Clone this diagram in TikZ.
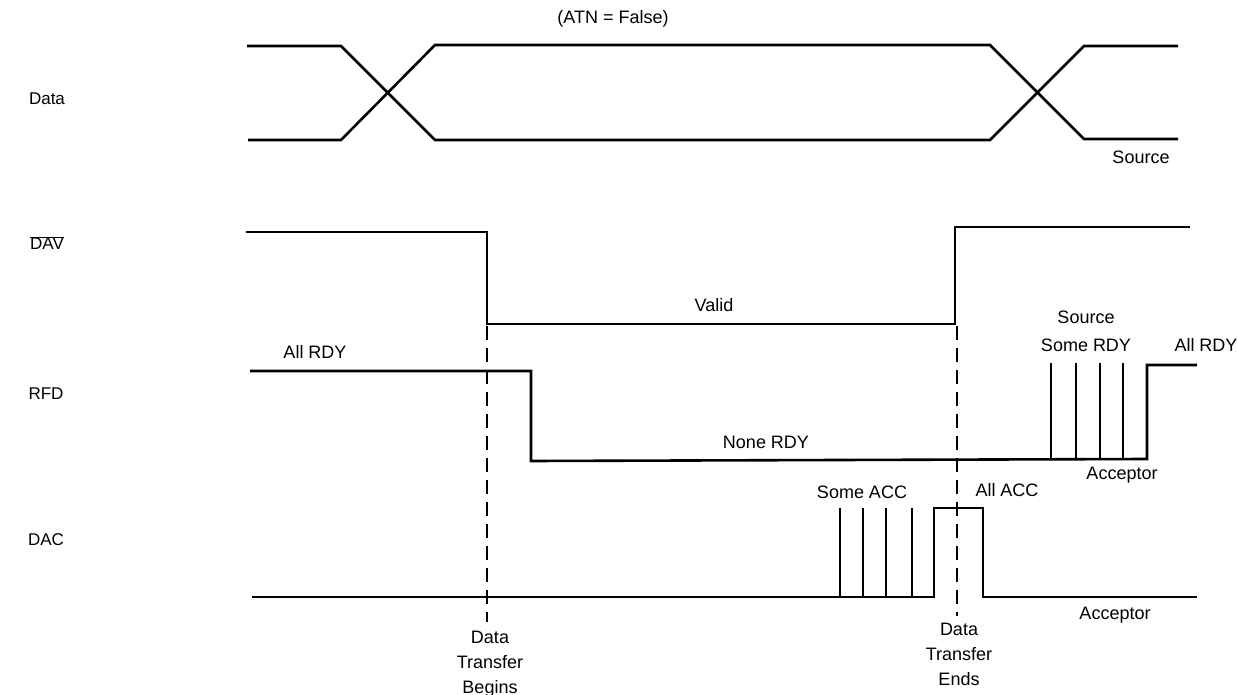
\documentclass[tikz,border=0pt]{standalone}
\usepackage{fontspec}
\setmainfont{Liberation Sans}
\begin{document}
\begin{tikzpicture}[x=1pt,y=-1pt,
  wave/.style={line width=2.6pt,line join=miter},
  pulse/.style={line width=1.8pt},
  marker/.style={line width=1.8pt,dash pattern=on 14pt off 8pt},
  lbl/.style={font=\fontsize{18}{20}\selectfont,inner sep=0pt},
  sig/.style={font=\fontsize{17}{20}\selectfont,inner sep=0pt}]
\useasboundingbox (0,0) rectangle (1237,695);
% Data bus
\draw[wave] (247,46) -- (341,46) -- (435,140) -- (990,140) -- (1084,46) -- (1178,46);
\draw[wave] (248,140) -- (341,140) -- (435,45) -- (990,45) -- (1084,139) -- (1178,139);
% DAV
\draw[wave] (246,232) -- (487,232) -- (487,324) -- (955,324) -- (955,227) -- (1190,227);
% RFD
\draw[wave] (250,371) -- (531,371) -- (531,461) -- (1147,459) -- (1147,365) -- (1197,365);
\foreach \x in {1051,1076,1100,1123} \draw[pulse] (\x,459) -- (\x,363);
% DAC
\draw[wave] (252,597) -- (934,597) -- (934,508) -- (983,508) -- (983,597) -- (1197,597);
\foreach \x in {840,863,886,912} \draw[pulse] (\x,597) -- (\x,508);
% markers
\coordinate (b0) at (487,326); \coordinate (b1) at (487,622);
\coordinate (e0) at (957,326); \coordinate (e1) at (957,616);
\draw[marker] (b0) -- (b1);
\draw[marker] (e0) -- (e1);
% signal names
\node[sig] (ndata) at (47,99) {Data};
\node[sig] (ndav) at (47,243) {$\overline{\hbox{DAV}}$};
\node[sig] (nrfd) at (46,394) {RFD};
\node[sig] (ndac) at (46,540) {DAC};
% labels
\node[lbl] (atn) at (613,19) {(ATN = False)};
\node[lbl] (src1) at (1141,157) {Source};
\node[lbl] (valid) at (714,305) {Valid};
\node[lbl] (allrdy1) at (315,352) {All RDY};
\node[lbl] (src2) at (1086,317) {Source};
\node[lbl] (somerdy) at (1086,345) {Some RDY};
\node[lbl] (allrdy2) at (1206,345) {All RDY};
\node[lbl] (nonerdy) at (766,442) {None RDY};
\node[lbl] (acc1) at (1122,475) {Acceptor};
\node[lbl] (someacc) at (862,492) {Some ACC};
\node[lbl] (allacc) at (1007,490) {All ACC};
\node[lbl] (acc2) at (1115,615) {Acceptor};
\node[lbl,align=center,font=\fontsize{18}{25}\selectfont] (begins) at (490,664) {Data\\Transfer\\Begins};
\node[lbl,align=center,font=\fontsize{18}{25}\selectfont] (ends) at (959,654) {Data\\Transfer\\Ends};
\end{tikzpicture}
\end{document}
